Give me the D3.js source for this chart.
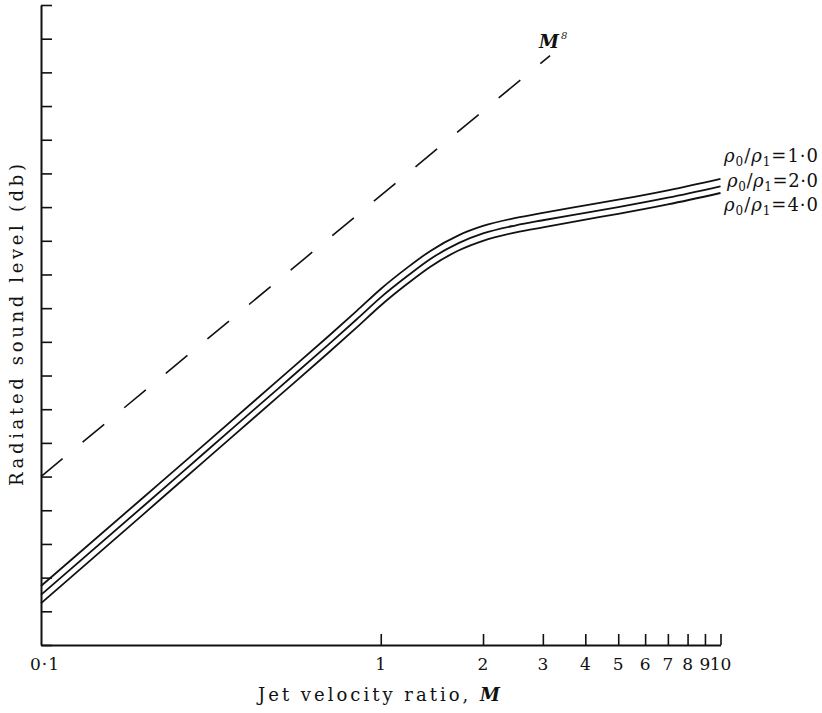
<!DOCTYPE html>
<html>
<head>
<meta charset="utf-8">
<style>
body{margin:0;background:#fff}
text{font-family:"DejaVu Serif","Liberation Serif",serif;fill:#111}
</style>
</head>
<body>
<script src="https://cdn.jsdelivr.net/npm/d3@7"></script>
<script>

// jet velocity ratio M (log axis)
var ratioM = [0.1, 0.2, 0.3, 0.5, 0.7, 0.85, 1, 1.2, 1.4, 1.7, 2, 2.5, 3, 4, 5, 7, 10];
// radiated sound level in db, one tick = 10 db (axis has no numbers)
var level10 = [17.5, 43.8, 59.2, 78.7, 91.6, 99.2, 105.7, 112.1, 117.0, 121.7, 124.4, 126.8, 128.3, 130.5, 132.2, 135.0, 138.4];
var level20 = [14.9, 41.2, 56.7, 76.2, 89.1, 96.7, 103.2, 109.6, 114.6, 119.4, 122.2, 124.6, 126.1, 128.3, 130.0, 132.8, 136.2];
var level40 = [12.4, 38.8, 54.3, 73.8, 86.7, 94.3, 100.8, 107.3, 112.3, 117.2, 120.0, 122.5, 124.0, 126.3, 128.0, 130.8, 134.2];
var densityRatio = ["1·0", "2·0", "4·0"];

// M^8 reference line
var m8Ratio = [0.1, 3.15];
var m8Level = [50, 175];

var xTicks = [1, 2, 3, 4, 5, 6, 7, 8, 9, 10];
var xLabelValues = [0.1, 1, 2, 3, 4, 5, 6, 7, 8, 9, 10];
var xLabels = ["0·1", "1", "2", "3", "4", "5", "6", "7", "8", "9", "10"];
var yTicks = d3.range(0, 191, 10);

var svg = d3.select("body").append("svg")
    .attr("width", 822)
    .attr("height", 713);

var x = d3.scaleLog().domain([0.1, 10]).range([41, 720.5]);
var y = d3.scaleLinear().domain([0, 190]).range([645, 5]);

// axes, ticks pointing inwards
svg.append("g")
    .attr("transform", "translate(41,0)")
    .call(d3.axisRight(y).tickValues(yTicks).tickSize(11).tickSizeOuter(0).tickFormat(""));
svg.append("g")
    .attr("transform", "translate(0,645)")
    .call(d3.axisTop(x).tickValues(xTicks).tickSize(11).tickSizeOuter(0).tickFormat(""));
svg.selectAll(".domain").attr("stroke", "#111").attr("stroke-width", 2);
svg.selectAll(".tick line").attr("stroke", "#111").attr("stroke-width", 1.6);

svg.append("g").selectAll("text")
    .data(xLabelValues)
    .join("text")
    .attr("x", d => x(d) + (d == 0.1 ? 4 : 0))
    .attr("y", 670)
    .attr("text-anchor", "middle")
    .attr("font-size", 17)
    .attr("letter-spacing", d => d == 0.1 ? 1 : 0)
    .text((d, i) => xLabels[i]);

var xTitle = svg.append("text")
    .attr("x", 379)
    .attr("y", 701)
    .attr("text-anchor", "middle")
    .attr("font-size", 18)
    .attr("textLength", 242);
xTitle.append("tspan").text("Jet velocity ratio, ");
xTitle.append("tspan").attr("font-style", "italic").attr("font-weight", "bold").text("M");

svg.append("text")
    .attr("transform", "translate(23,325) rotate(-90)")
    .attr("text-anchor", "middle")
    .attr("font-size", 18)
    .attr("textLength", 322)
    .text("Radiated sound level (db)");

// M^8 dashed line
var m8 = m8Ratio.map((d, i) => [d, m8Level[i]]);
svg.append("path")
    .datum(m8)
    .attr("fill", "none")
    .attr("stroke", "#111")
    .attr("stroke-width", 1.6)
    .attr("stroke-dasharray", "28,26")
    .attr("d", d3.line().x(d => x(d[0])).y(d => y(d[1])));

var m8Label = svg.append("text")
    .attr("x", x(m8Ratio[1]) - 11)
    .attr("y", y(m8Level[1]) - 8)
    .attr("font-size", 18)
    .attr("font-style", "italic")
    .attr("font-weight", "bold");
m8Label.append("tspan").text("M");
m8Label.append("tspan").attr("font-size", 10).attr("dy", -9).attr("dx", 2).attr("font-weight", "normal").text("8");

// three density-ratio curves
var line = d3.line()
    .x(d => x(d[0]))
    .y(d => y(d[1]))
    .curve(d3.curveMonotoneX);

var series = [level10, level20, level40];
svg.append("g").selectAll("path")
    .data(series)
    .join("path")
    .attr("fill", "none")
    .attr("stroke", "#111")
    .attr("stroke-width", 1.8)
    .attr("d", s => line(ratioM.map((m, i) => [m, s[i]])));

var labelY = [162, 187, 211];
var labels = svg.append("g").selectAll("text")
    .data(densityRatio)
    .join("text")
    .attr("x", (d, i) => i == 1 ? 727 : 724)
    .attr("y", (d, i) => labelY[i])
    .attr("font-size", 18)
    .attr("textLength", (d, i) => i == 1 ? 91 : 94);
labels.append("tspan").attr("font-style", "italic").text("ρ");
labels.append("tspan").attr("font-size", 12).attr("dy", 4).text("0");
labels.append("tspan").attr("dy", -4).text("/");
labels.append("tspan").attr("font-style", "italic").text("ρ");
labels.append("tspan").attr("font-size", 12).attr("dy", 4).text("1");
labels.append("tspan").attr("dy", -4).text("=");
labels.append("tspan").text(d => d);

</script>
</body>
</html>
